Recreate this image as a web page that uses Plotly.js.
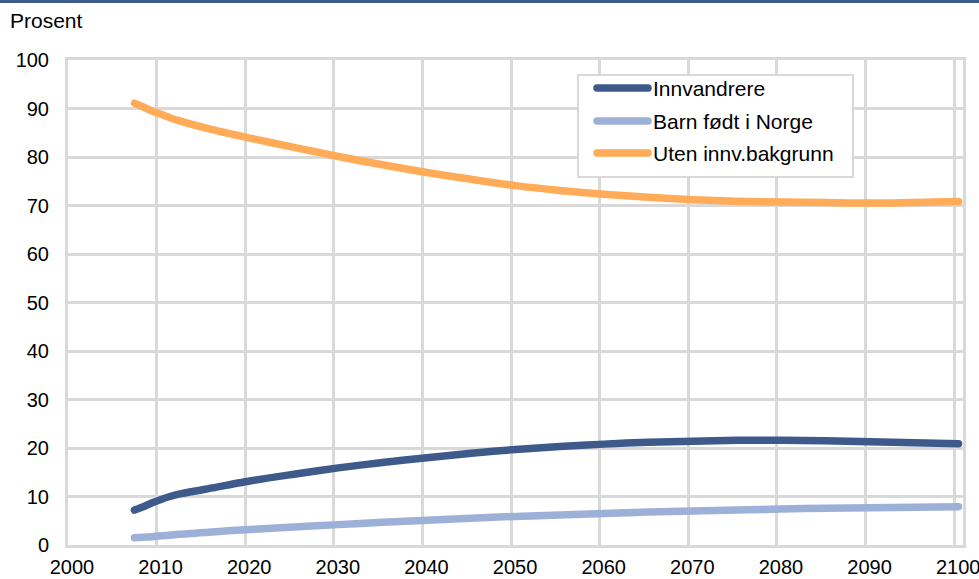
<!DOCTYPE html>
<html>
<head>
<meta charset="utf-8">
<script src="https://cdn.plot.ly/plotly-3.0.1.min.js"></script>
<style>
  html, body { margin: 0; padding: 0; background: #fff; }
  #chart { width: 979px; height: 579px; }
  .scatterlayer .js-line { stroke-linecap: round; }
  .shapelayer path { stroke-linecap: round; }
</style>
</head>
<body>
<div id="chart"></div>
<script>
// Share of the population by immigration background, per cent
const years = [2007, 2008, 2009, 2010, 2011, 2012, 2015, 2020, 2025, 2030, 2035, 2040, 2045,
               2050, 2055, 2060, 2065, 2070, 2075, 2080, 2085, 2090, 2095, 2100];

const innvandrere = [7.2, 7.9, 8.7, 9.4, 10.0, 10.5, 11.5, 13.2, 14.6, 15.9, 17.0, 18.0, 18.9,
                     19.7, 20.3, 20.8, 21.2, 21.4, 21.6, 21.6, 21.5, 21.3, 21.1, 20.9];

const barnFodtINorge = [1.5, 1.6, 1.7, 1.9, 2.0, 2.2, 2.6, 3.2, 3.7, 4.2, 4.7, 5.1, 5.5,
                        5.9, 6.2, 6.5, 6.8, 7.0, 7.2, 7.4, 7.6, 7.7, 7.8, 7.9];

const utenInnvBakgrunn = [91.1, 90.3, 89.5, 88.8, 88.1, 87.5, 86.0, 83.9, 82.0, 80.1, 78.4, 76.8, 75.4,
                          74.1, 73.1, 72.3, 71.7, 71.2, 70.9, 70.7, 70.6, 70.5, 70.6, 70.8];

const seriesNames = ['Innvandrere', 'Barn født i Norge', 'Uten innv.bakgrunn'];
const seriesColors = ['#3d5a8a', '#9db1d8', '#ffab57'];
const seriesValues = [innvandrere, barnFodtINorge, utenInnvBakgrunn];

const yTitle = 'Prosent';

// each value is placed in the middle of its year
const xPos = years.map(y => y + 0.5);

const W = 979, H = 579;
const M = { l: 68, r: 16, t: 60, b: 34 };
const plotW = W - M.l - M.r, plotH = H - M.t - M.b;
// pixel -> paper helpers for the frame decorations
const px = x => (x - M.l) / plotW;
const py = y => (H - M.b - y) / plotH;

const FONT = 'Liberation Sans, Arial, Helvetica, sans-serif';
const GRID = '#d9d9d9';

const traces = seriesValues.map((vals, i) => ({
  type: 'scatter',
  mode: 'lines',
  x: xPos,
  y: vals,
  name: seriesNames[i],
  line: { color: seriesColors[i], width: 7.5, shape: 'spline', smoothing: 0.8 },
  hoverinfo: 'x+y+name'
}));

// top rule and legend box
const shapes = [
  { type: 'rect', xref: 'paper', yref: 'paper',
    x0: px(0), x1: px(W), y0: py(3), y1: py(0),
    fillcolor: '#3d5a8a', line: { width: 0 } },
  { type: 'rect', xref: 'paper', yref: 'paper',
    x0: px(578), x1: px(853), y0: py(177), y1: py(75),
    fillcolor: '#ffffff', line: { color: GRID, width: 2 } }
];
const annotations = [
  { xref: 'paper', yref: 'paper', x: px(8), y: py(20), xanchor: 'left', yanchor: 'middle',
    text: yTitle, showarrow: false, font: { family: FONT, size: 21, color: '#000' } }
];
const legendRows = [88, 121, 153];
seriesNames.forEach((name, i) => {
  shapes.push({ type: 'line', xref: 'paper', yref: 'paper',
    x0: px(597), x1: px(648), y0: py(legendRows[i]), y1: py(legendRows[i]),
    line: { color: seriesColors[i], width: 7.5 } });
  annotations.push({ xref: 'paper', yref: 'paper', x: px(651), y: py(legendRows[i]),
    xanchor: 'left', yanchor: 'middle', text: name, showarrow: false,
    font: { family: FONT, size: 21, color: '#000' } });
});

const layout = {
  width: W, height: H,
  margin: M,
  paper_bgcolor: '#ffffff',
  plot_bgcolor: '#ffffff',
  showlegend: false,
  font: { family: FONT, size: 20, color: '#000' },
  xaxis: {
    range: [2000, 2101],
    tick0: 2000, dtick: 10,
    showgrid: true, gridcolor: GRID, gridwidth: 3,
    showline: true, mirror: true, linecolor: GRID, linewidth: 3,
    zeroline: false, ticks: '',
    ticklabelstandoff: 2, ticklabelshift: 4,
    ticklabeloverflow: 'allow',
    tickfont: { family: FONT, size: 20, color: '#000' }
  },
  yaxis: {
    range: [0, 100],
    tick0: 0, dtick: 10,
    showgrid: true, gridcolor: GRID, gridwidth: 3,
    showline: true, mirror: true, linecolor: GRID, linewidth: 3,
    zeroline: false, ticks: '',
    ticklabelstandoff: 12,
    tickfont: { family: FONT, size: 20, color: '#000' }
  },
  shapes: shapes,
  annotations: annotations
};

Plotly.newPlot('chart', traces, layout, { displayModeBar: false, staticPlot: true });
</script>
</body>
</html>
